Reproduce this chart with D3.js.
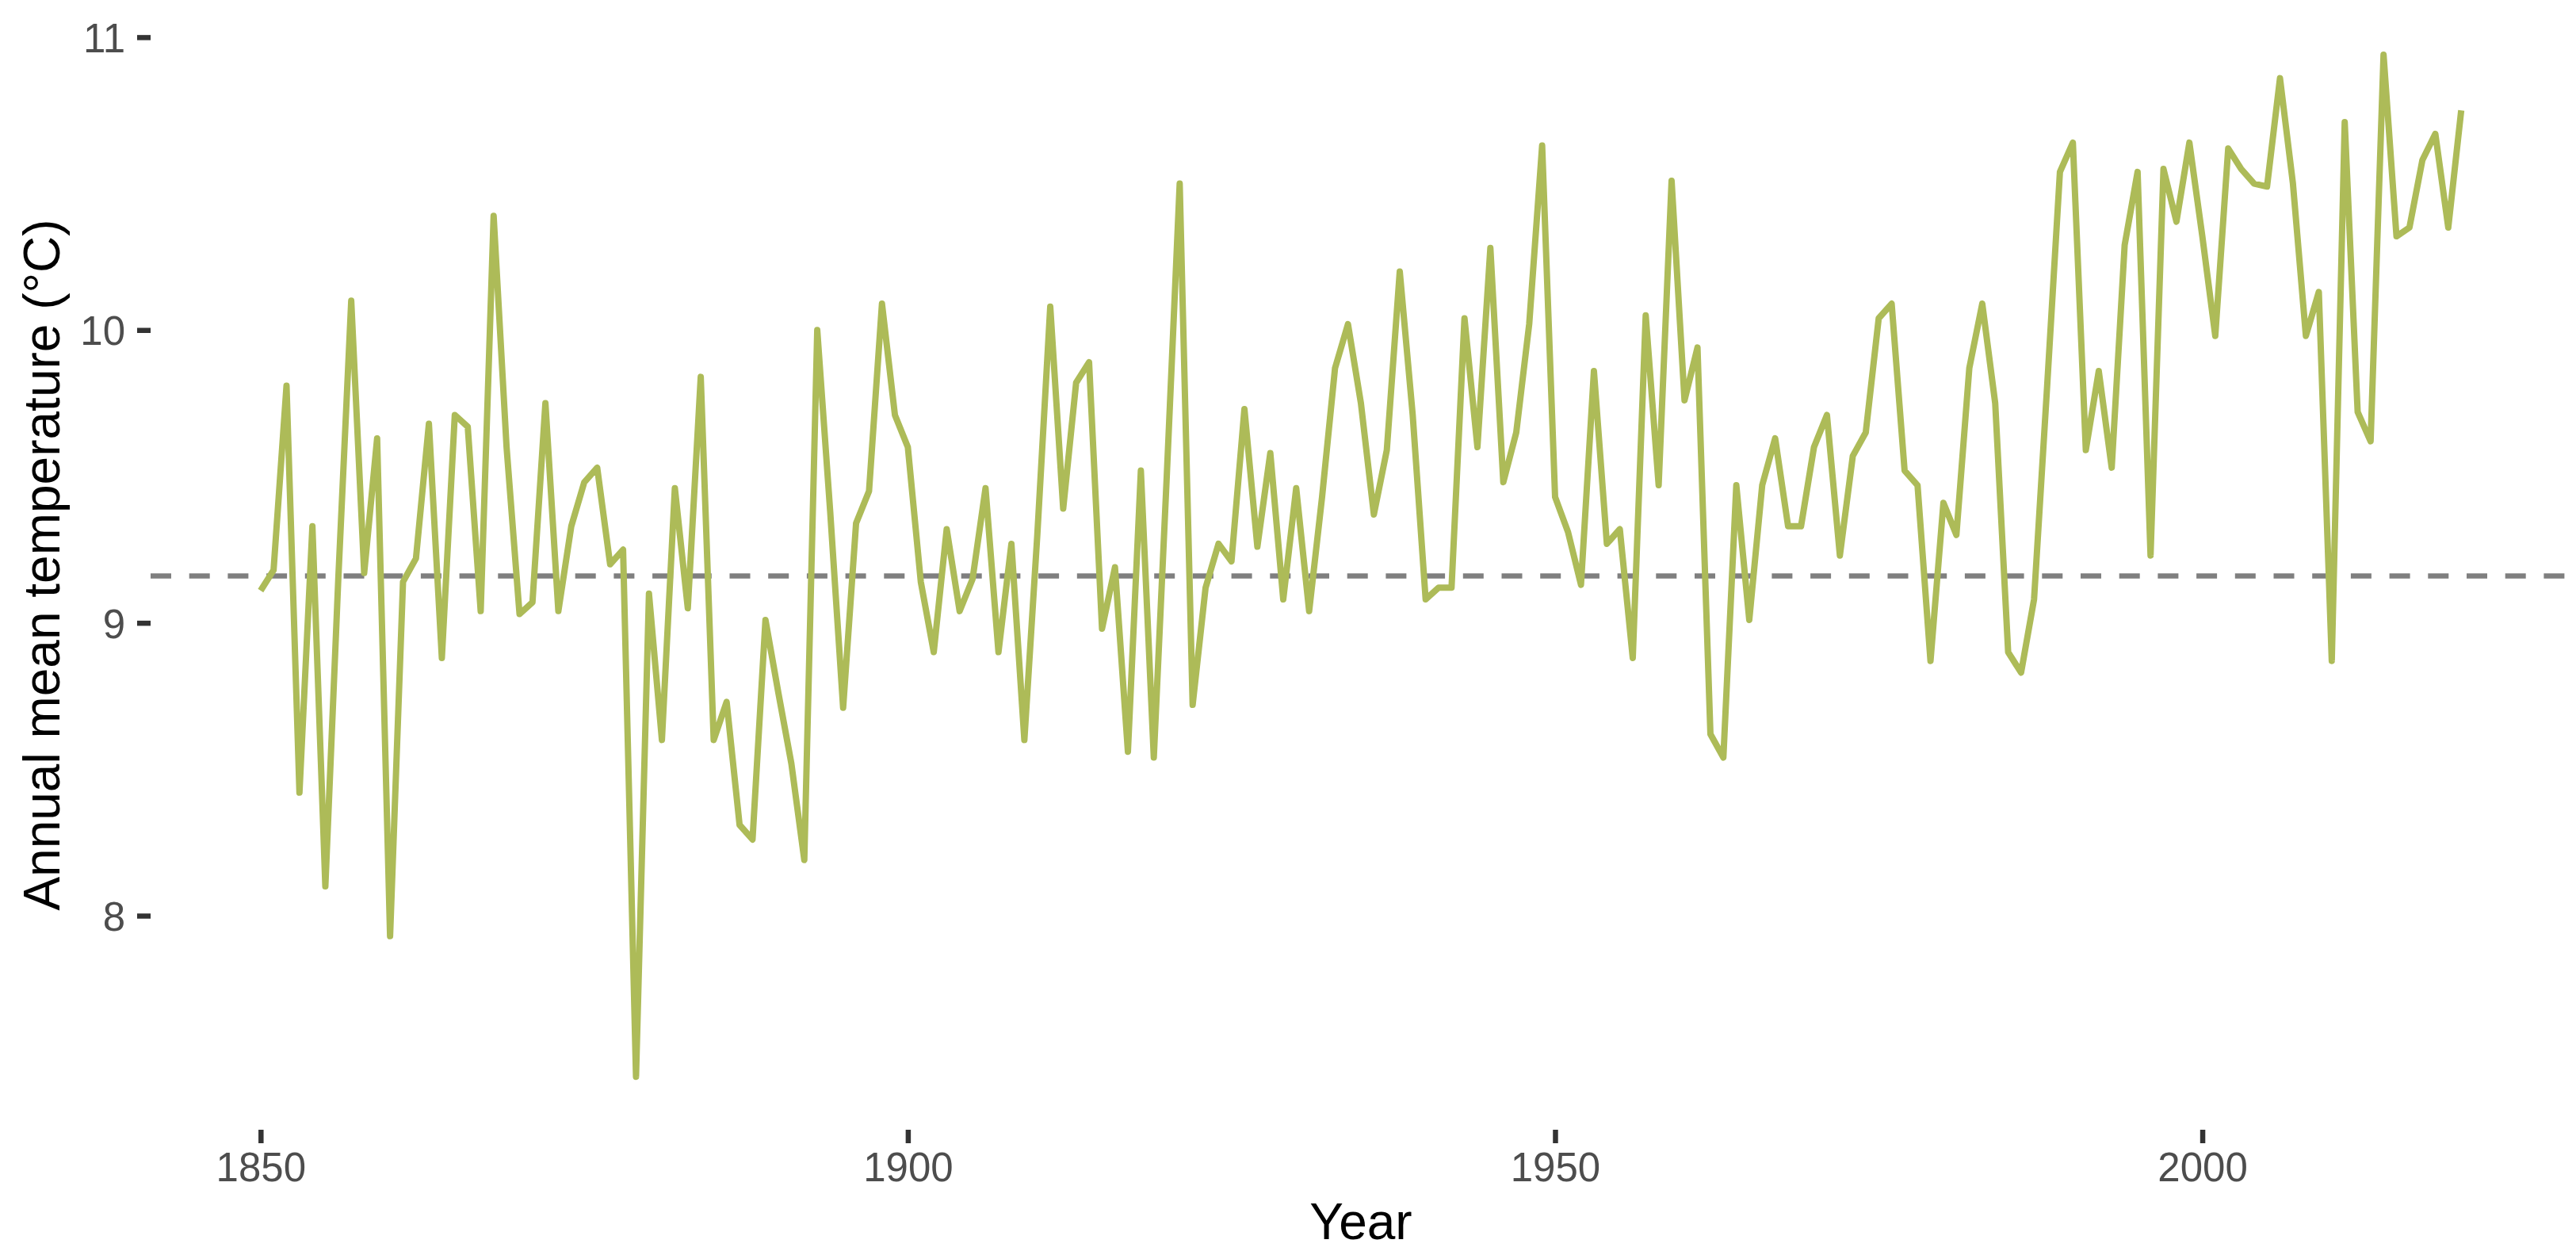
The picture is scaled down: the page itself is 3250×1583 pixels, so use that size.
<!DOCTYPE html>
<html>
<head>
<meta charset="utf-8">
<script src="https://cdn.jsdelivr.net/npm/d3@7"></script>
<style>
  html, body { margin: 0; padding: 0; background: #ffffff; }
  svg { display: block; }
</style>
</head>
<body>
<script>
// ---- Data ----
const years = d3.range(1850, 2021);
const temperatures = [
  9.11, 9.18, 9.81, 8.42, 9.33, 8.10, 9.15, 10.10, 9.17, 9.63,   // 1850-1859
  7.93, 9.14, 9.22, 9.68, 8.88, 9.71, 9.67, 9.04, 10.39, 9.60,   // 1860-1869
  9.03, 9.07, 9.75, 9.04, 9.33, 9.48, 9.53, 9.20, 9.25, 7.45,    // 1870-1879
  9.10, 8.60, 9.46, 9.05, 9.84, 8.60, 8.73, 8.31, 8.26, 9.01,    // 1880-1889
  8.76, 8.52, 8.19, 10.00, 9.38, 8.71, 9.34, 9.45, 10.09, 9.71,  // 1890-1899
  9.60, 9.14, 8.90, 9.32, 9.04, 9.15, 9.46, 8.90, 9.27, 8.60,    // 1900-1909
  9.30, 10.08, 9.39, 9.82, 9.89, 8.98, 9.19, 8.56, 9.52, 8.54,   // 1910-1919
  9.50, 10.50, 8.72, 9.12, 9.27, 9.21, 9.73, 9.26, 9.58, 9.08,   // 1920-1929
  9.46, 9.04, 9.43, 9.87, 10.02, 9.75, 9.37, 9.59, 10.20, 9.71,  // 1930-1939
  9.08, 9.12, 9.12, 10.04, 9.60, 10.28, 9.48, 9.65, 10.02, 10.63,// 1940-1949
  9.43, 9.31, 9.13, 9.86, 9.27, 9.32, 8.88, 10.05, 9.47, 10.51,  // 1950-1959
  9.76, 9.94, 8.62, 8.54, 9.47, 9.01, 9.47, 9.63, 9.33, 9.33,    // 1960-1969
  9.60, 9.71, 9.23, 9.57, 9.65, 10.04, 10.09, 9.52, 9.47, 8.87,  // 1970-1979
  9.41, 9.30, 9.87, 10.09, 9.75, 8.90, 8.83, 9.08, 9.80, 10.54,  // 1980-1989
  10.64, 9.59, 9.86, 9.53, 10.29, 10.54, 9.23, 10.55, 10.37, 10.64, // 1990-1999
  10.32, 9.98, 10.62, 10.55, 10.50, 10.49, 10.86, 10.50, 9.98, 10.13, // 2000-2009
  8.87, 10.71, 9.72, 9.62, 10.94, 10.32, 10.35, 10.58, 10.67, 10.35,  // 2010-2019
  10.75                                                            // 2020
];
const referenceMean = 9.16;
const xTickValues = [1850, 1900, 1950, 2000];
const yTickValues = [8, 9, 10, 11];
const xTitle = "Year";
const yTitle = "Annual mean temperature (°C)";

// ---- Layout ----
const W = 3250, H = 1583;
const panel = { left: 190, right: 3244, top: 0, bottom: 1425 };
const xDomain = [1841.5, 2028.5];
const yDomain = [7.269, 11.127];
const fontFamily = "'Liberation Sans', Arial, 'DejaVu Sans', sans-serif";

const data = years.map((y, i) => ({ year: y, temp: temperatures[i] }));

const svg = d3.select("body").append("svg")
  .attr("width", W).attr("height", H)
  .attr("viewBox", `0 0 ${W} ${H}`);

svg.append("rect").attr("width", W).attr("height", H).attr("fill", "#ffffff");

const x = d3.scaleLinear().domain(xDomain).range([panel.left, panel.right]);
const y = d3.scaleLinear().domain(yDomain).range([panel.bottom, panel.top]);

// Reference (dashed) line
svg.append("line")
  .attr("x1", panel.left).attr("x2", panel.right)
  .attr("y1", y(referenceMean)).attr("y2", y(referenceMean))
  .attr("stroke", "#7f7f7f")
  .attr("stroke-width", 6.5)
  .attr("stroke-dasharray", "26,22.7");

// Temperature line
const line = d3.line().x(d => x(d.year)).y(d => y(d.temp));
svg.append("path")
  .datum(data)
  .attr("d", line)
  .attr("fill", "none")
  .attr("stroke", "#adbb58")
  .attr("stroke-width", 8)
  .attr("stroke-linejoin", "round")
  .attr("stroke-linecap", "butt");

// X axis
const xAxis = d3.axisBottom(x).tickValues(xTickValues).tickFormat(d3.format("d"))
  .tickSize(17).tickPadding(11);
const gx = svg.append("g")
  .attr("transform", `translate(0,${panel.bottom})`)
  .call(xAxis);
gx.select(".domain").remove();
gx.selectAll(".tick line").attr("stroke", "#333333").attr("stroke-width", 6.5);
gx.selectAll(".tick text")
  .attr("fill", "#4d4d4d")
  .attr("font-family", fontFamily)
  .attr("font-size", 51)
  .attr("dy", "0.72em");

// Y axis
const yAxis = d3.axisLeft(y).tickValues(yTickValues).tickFormat(d3.format("d"))
  .tickSize(17).tickPadding(15);
const gy = svg.append("g")
  .attr("transform", `translate(${panel.left},0)`)
  .call(yAxis);
gy.select(".domain").remove();
gy.selectAll(".tick line").attr("stroke", "#333333").attr("stroke-width", 6.5);
gy.selectAll(".tick text")
  .attr("fill", "#4d4d4d")
  .attr("font-family", fontFamily)
  .attr("font-size", 51)
  .attr("dy", "0.36em");

// Axis titles
svg.append("text")
  .attr("x", (panel.left + panel.right) / 2)
  .attr("y", 1563)
  .attr("text-anchor", "middle")
  .attr("font-family", fontFamily)
  .attr("font-size", 64)
  .attr("fill", "#000000")
  .text(xTitle);

svg.append("text")
  .attr("transform", `translate(75,${(panel.top + panel.bottom) / 2}) rotate(-90)`)
  .attr("text-anchor", "middle")
  .attr("font-family", fontFamily)
  .attr("font-size", 64)
  .attr("fill", "#000000")
  .text(yTitle);
</script>
</body>
</html>
